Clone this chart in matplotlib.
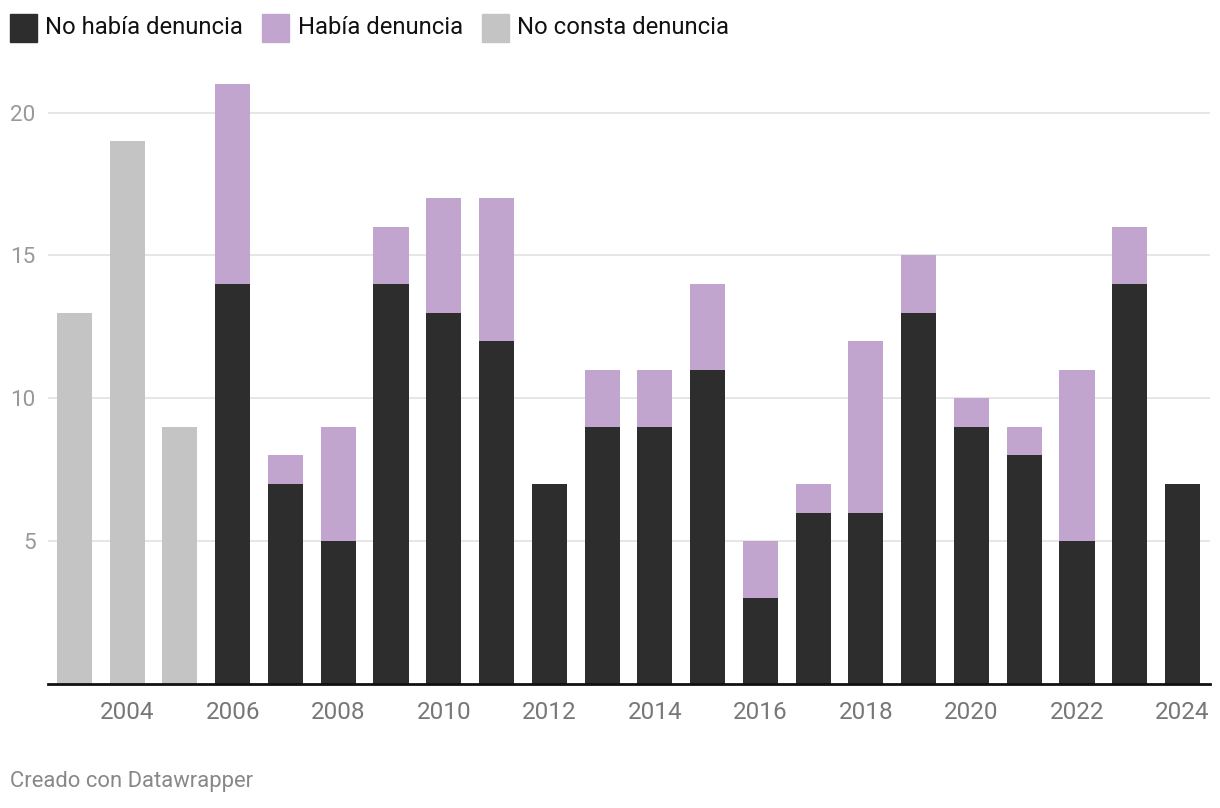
import matplotlib
matplotlib.use("Agg")
import matplotlib.pyplot as plt
from matplotlib.patches import Rectangle

years = list(range(2003, 2025))
no_habia = [0, 0, 0, 14, 7, 5, 14, 13, 12, 7, 9, 9, 11, 3, 6, 6, 13, 9, 8, 5, 14, 7]
habia = [0, 0, 0, 7, 1, 4, 2, 4, 5, 0, 2, 2, 3, 2, 1, 6, 2, 1, 1, 6, 2, 0]
no_consta = [13, 19, 9, 0, 0, 0, 0, 0, 0, 0, 0, 0, 0, 0, 0, 0, 0, 0, 0, 0, 0, 0]
labels = ["No había denuncia", "Había denuncia", "No consta denuncia"]
colors = ["#2d2d2d", "#c2a5cf", "#c4c4c4"]
xtick_years = list(range(2004, 2025, 2))
yticks = [5, 10, 15, 20]

plt.rcParams['font.family'] = ['Roboto', 'DejaVu Sans']

W, H = 1220, 808
fig = plt.figure(figsize=(W / 100, H / 100), dpi=100)
ax = fig.add_axes([48 / W, 1 - 684 / H, (1210 - 48) / W, (684 - 84) / H])

bw = 0.665
ax.bar(years, no_consta, width=bw, color=colors[2], zorder=3)
ax.bar(years, no_habia, width=bw, color=colors[0], zorder=3)
ax.bar(years, habia, width=bw, bottom=no_habia, color=colors[1], zorder=3)

ax.set_xlim(2002.5, 2024.52)
ax.set_ylim(0, 21)
ax.set_yticks(yticks)
ax.set_yticklabels([str(v) for v in yticks])
ax.set_xticks(xtick_years)
ax.set_xticklabels([str(v) for v in xtick_years])
ax.tick_params(axis='y', length=0, pad=9, labelsize=16.2, labelcolor='#999999')
ax.tick_params(axis='x', length=0, pad=12, labelsize=17.5, labelcolor='#777777')
ax.grid(axis='y', color='#e2e2e2', linewidth=1.2, zorder=0)
for s in ['top', 'right', 'left']:
    ax.spines[s].set_visible(False)
ax.spines['bottom'].set_color('#111111')
ax.spines['bottom'].set_linewidth(2)
ax.spines['bottom'].set_zorder(5)

# legend
leg = [(10, 45), (262, 298), (482, 517)]
for (sx, tx), lab, c in zip(leg, labels, colors):
    fig.patches.append(Rectangle((sx / W, 1 - 42 / H), 27 / W, 28 / H,
                                 transform=fig.transFigure, color=c))
    fig.text(tx / W, 1 - 27 / H, lab, fontsize=17.2, color='#111111',
             va='center', ha='left')

fig.text(10 / W, 1 - 782 / H, "Creado con Datawrapper", fontsize=15.8,
         color='#888888', va='center', ha='left')

fig.savefig("out.png", dpi=100, facecolor='white')
